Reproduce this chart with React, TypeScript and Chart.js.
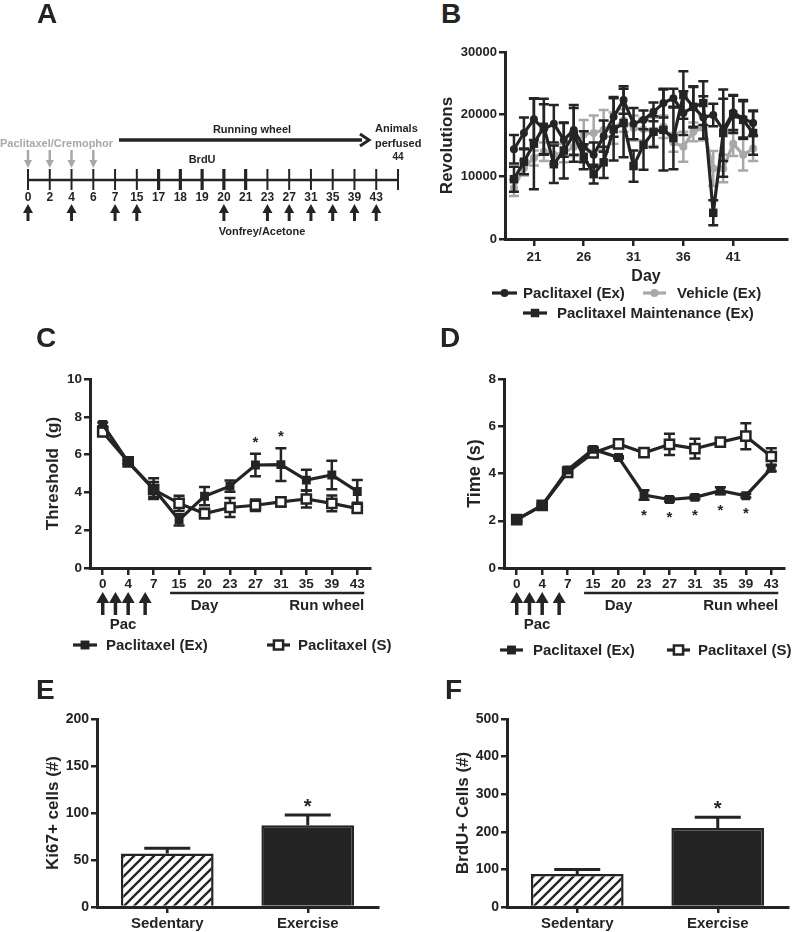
import React, { useEffect, useRef } from 'react';
import { Chart, registerables } from 'chart.js';

Chart.register(...registerables);

const FONT = "'Liberation Sans', Arial, Helvetica, sans-serif";
const INK = '#242424';
const GRAY = '#a8a8a8';

// ---------- Panel A (timeline schematic) ----------
const timelineDays = ['0', '2', '4', '6', '7', '15', '17', '18', '19', '20', '21', '23', '27', '31', '35', '39', '43', '44'];
const pacInjectionDays = ['0', '2', '4', '6'];
const brduDays = ['17', '18', '19', '20', '21'];
const behaviourTestDays = ['0', '4', '7', '15', '20', '23', '27', '31', '35', '39', '43'];
const perfusionDay = '44';

// ---------- Panel B (wheel revolutions) ----------
const wheelDays = [19, 20, 21, 22, 23, 24, 25, 26, 27, 28, 29, 30, 31, 32, 33, 34, 35, 36, 37, 38, 39, 40, 41, 42, 43];
const wheelTicks = [21, 26, 31, 36, 41];
const paclitaxelExRev = [14400, 17000, 19200, 17600, 18500, 15900, 17500, 14800, 13500, 16500, 19600, 22300, 18500, 19100, 20400, 21800, 22600, 20200, 21200, 19500, 19900, 17500, 20300, 19300, 18600];
const paclitaxelExRevErr = [2300, 2500, 3300, 4000, 3000, 2700, 4000, 2500, 2000, 2500, 3200, 2200, 2500, 1500, 1500, 2300, 1500, 3500, 3200, 3400, 1800, 5000, 2800, 3000, 2000];
const maintenanceExRev = [9600, 12400, 15300, 18000, 12000, 14200, 16700, 13200, 10400, 12300, 17600, 18600, 11700, 15100, 17200, 17500, 16200, 23100, 21200, 21800, 4200, 17000, 20000, 19100, 17000];
const maintenanceExRevErr = [2000, 2000, 7300, 4500, 3000, 4500, 4300, 2000, 1500, 2500, 5000, 5500, 2500, 4000, 2500, 6500, 5000, 3800, 3300, 3500, 2000, 7000, 3000, 3000, 3500];
const vehicleExRev = [8200, 11400, 13000, 14000, 13500, 13800, 14800, 16800, 17000, 17500, 17800, 19000, 17800, 17600, 17200, 18000, 15500, 14800, 17200, 17800, 11300, 11300, 15300, 13500, 14500];
const vehicleExRevErr = [1300, 1200, 1200, 1500, 1500, 1500, 1500, 2300, 2800, 3200, 2500, 1800, 2000, 1800, 2300, 1800, 1500, 2400, 1500, 2000, 2800, 2200, 2000, 2500, 2000];

// ---------- Panels C & D ----------
const testDays = ['0', '4', '7', '15', '20', '23', '27', '31', '35', '39', '43'];
const thresholdEx = [7.6, 5.6, 4.2, 2.55, 3.8, 4.33, 5.45, 5.47, 4.65, 4.92, 4.05];
const thresholdExErr = [0.1, 0.1, 0.55, 0.3, 0.48, 0.3, 0.6, 0.87, 0.55, 0.75, 0.6];
const thresholdSed = [7.2, 5.62, 4.15, 3.42, 2.88, 3.2, 3.32, 3.5, 3.65, 3.42, 3.15];
const thresholdSedErr = [0.15, 0.1, 0.4, 0.4, 0.25, 0.5, 0.3, 0.25, 0.45, 0.42, 0.2];
const thresholdSigDays = ['27', '31'];

const coldEx = [2.05, 2.65, 4.15, 5.02, 4.68, 3.09, 2.9, 2.99, 3.27, 3.06, 4.22];
const coldExErr = [0.08, 0.05, 0.1, 0.1, 0.05, 0.2, 0.08, 0.08, 0.15, 0.08, 0.12];
const coldSed = [2.05, 2.65, 4.05, 4.87, 5.25, 4.88, 5.23, 5.05, 5.33, 5.58, 4.72];
const coldSedErr = [0.08, 0.05, 0.1, 0.1, 0.1, 0.12, 0.45, 0.42, 0.15, 0.55, 0.35];
const coldSigDays = ['23', '27', '31', '35', '39'];

// ---------- Panels E & F ----------
const groups = ['Sedentary', 'Exercise'];
const ki67Cells = [57, 87];
const ki67Err = [5.5, 11];
const brduCells = [88, 210];
const brduErr = [12, 29];
const cellSigGroups = ['Exercise'];

// ---------- helpers ----------
const bold = (size: number) => ({ family: FONT, size, weight: 'bold' as const, lineHeight: 1.2 });

function setFont(ctx: CanvasRenderingContext2D, size: number) {
  ctx.font = `bold ${size}px ${FONT}`;
}

function drawArrow(ctx: CanvasRenderingContext2D, x: number, yTail: number, yHead: number, color: string, shaftW: number, headW: number, headH: number) {
  const dir = Math.sign(yHead - yTail);
  ctx.save();
  ctx.strokeStyle = color;
  ctx.fillStyle = color;
  ctx.lineWidth = shaftW;
  ctx.beginPath();
  ctx.moveTo(x, yTail);
  ctx.lineTo(x, yHead - dir * headH * 0.8);
  ctx.stroke();
  ctx.beginPath();
  ctx.moveTo(x, yHead);
  ctx.lineTo(x - headW / 2, yHead - dir * headH);
  ctx.lineTo(x + headW / 2, yHead - dir * headH);
  ctx.closePath();
  ctx.fill();
  ctx.restore();
}

function drawMarker(ctx: CanvasRenderingContext2D, style: string, x: number, y: number, r: number, fill: string, stroke: string, bw: number) {
  ctx.save();
  ctx.fillStyle = fill;
  ctx.strokeStyle = stroke;
  ctx.lineWidth = bw;
  ctx.beginPath();
  if (style === 'circle') ctx.arc(x, y, r, 0, Math.PI * 2);
  else {
    const s = r * Math.SQRT1_2;
    ctx.rect(x - s, y - s, 2 * s, 2 * s);
  }
  ctx.fill();
  if (bw > 0) ctx.stroke();
  ctx.restore();
}

function hatchPattern(): CanvasPattern | string {
  const c = document.createElement('canvas');
  c.width = 10;
  c.height = 10;
  const g = c.getContext('2d');
  if (!g) return '#fff';
  g.fillStyle = '#fff';
  g.fillRect(0, 0, 10, 10);
  g.strokeStyle = INK;
  g.lineWidth = 2.3;
  g.beginPath();
  g.moveTo(-2, 12); g.lineTo(12, -2);
  g.moveTo(-2, 2); g.lineTo(2, -2);
  g.moveTo(8, 12); g.lineTo(12, 8);
  g.stroke();
  return g.createPattern(c, 'repeat') || '#fff';
}

// error bars drawn just before each dataset
const errorBarPlugin = {
  id: 'errorBars',
  beforeDatasetDraw(chart: any, args: any) {
    const ds = chart.data.datasets[args.index];
    const errs: number[] | undefined = ds.errors;
    if (!errs) return;
    const ctx: CanvasRenderingContext2D = chart.ctx;
    const yScale = chart.scales.y;
    const meta = args.meta;
    ctx.save();
    ctx.strokeStyle = ds.errorColor || ds.borderColor;
    ctx.lineWidth = ds.errorWidth || 2;
    meta.data.forEach((el: any, j: number) => {
      const raw = ds.data[j];
      const v = raw !== null && typeof raw === 'object' ? raw.y : raw;
      const e = errs[j];
      if (v == null || e == null) return;
      const x = el.x;
      const yTop = yScale.getPixelForValue(v + e);
      const yBot = ds.errorUpOnly ? yScale.getPixelForValue(v) : yScale.getPixelForValue(v - e);
      const hw = ds.capHalfWidth || 5;
      ctx.beginPath();
      ctx.moveTo(x, yTop); ctx.lineTo(x, yBot);
      ctx.moveTo(x - hw, yTop); ctx.lineTo(x + hw, yTop);
      if (!ds.errorUpOnly) { ctx.moveTo(x - hw, yBot); ctx.lineTo(x + hw, yBot); }
      ctx.stroke();
    });
    ctx.restore();
  },
};

// significance stars attached to a dataset
const starPlugin = {
  id: 'sigStars',
  afterDatasetsDraw(chart: any) {
    const ctx: CanvasRenderingContext2D = chart.ctx;
    const yScale = chart.scales.y;
    const labels: string[] = chart.data.labels;
    chart.data.datasets.forEach((ds: any, i: number) => {
      if (!ds.stars) return;
      const meta = chart.getDatasetMeta(i);
      const size = ds.starSize || 15;
      ctx.save();
      setFont(ctx, size);
      ctx.fillStyle = INK;
      ctx.textAlign = 'center';
      ctx.textBaseline = 'alphabetic';
      ds.stars.forEach((lab: string) => {
        const j = labels.indexOf(lab);
        if (j < 0) return;
        const v = ds.data[j];
        const e = ds.errors ? ds.errors[j] : 0;
        const x = meta.data[j].x;
        let yc: number;
        if (ds.starBelow) yc = yScale.getPixelForValue(v - e) + 12;
        else yc = yScale.getPixelForValue(v + e) - (ds.starGap || 13);
        ctx.fillText('*', x, yc + 0.55 * size);
      });
      ctx.restore();
    });
  },
};

type LegendItem = { ds: number; x0: number; x1: number; textX: number; y: number };
const customLegendPlugin = {
  id: 'customLegend',
  afterDraw(chart: any, _a: any, opts: any) {
    const items: LegendItem[] = (opts && opts.items) || [];
    const ctx: CanvasRenderingContext2D = chart.ctx;
    items.forEach((it) => {
      const ds = chart.data.datasets[it.ds];
      ctx.save();
      ctx.strokeStyle = ds.borderColor;
      ctx.lineWidth = ds.borderWidth;
      ctx.beginPath();
      ctx.moveTo(it.x0, it.y);
      ctx.lineTo(it.x1, it.y);
      ctx.stroke();
      drawMarker(ctx, ds.pointStyle, (it.x0 + it.x1) / 2, it.y, ds.pointRadius, ds.pointBackgroundColor, ds.pointBorderColor, ds.pointBorderWidth);
      setFont(ctx, opts.fontSize || 15);
      ctx.fillStyle = INK;
      ctx.textAlign = 'left';
      ctx.textBaseline = 'middle';
      ctx.fillText(ds.label, it.textX, it.y + 1);
      ctx.restore();
    });
  },
};

// treatment annotations under the C / D x axes
const pacDayToIndex = (day: number) => {
  const known = testDays.map(Number);
  for (let i = 0; i < known.length - 1; i++) {
    if (day >= known[i] && day <= known[i + 1]) return i + (day - known[i]) / (known[i + 1] - known[i]);
  }
  return 0;
};
const treatmentPlugin = {
  id: 'treatment',
  afterDraw(chart: any) {
    const ctx: CanvasRenderingContext2D = chart.ctx;
    const x = chart.scales.x;
    pacInjectionDays.forEach((d) => {
      const px = x.getPixelForValue(pacDayToIndex(Number(d)));
      drawArrow(ctx, px, 285, 262, INK, 3.5, 13, 11);
    });
    setFont(ctx, 15);
    ctx.fillStyle = INK;
    ctx.textBaseline = 'middle';
    ctx.textAlign = 'center';
    ctx.fillText('Pac', x.getPixelForValue(0.8), 295);
    const startPx = x.getPixelForValue(testDays.indexOf('15')) - 9;
    const endPx = x.getPixelForValue(testDays.length - 1) + 7;
    ctx.save();
    ctx.strokeStyle = INK;
    ctx.lineWidth = 2.5;
    ctx.beginPath();
    ctx.moveTo(startPx, 263);
    ctx.lineTo(endPx, 263);
    ctx.stroke();
    ctx.restore();
    ctx.fillText('Day', x.getPixelForValue(testDays.indexOf('20')), 276);
    ctx.textAlign = 'right';
    ctx.fillText('Run wheel', endPx, 276);
  },
};

const timelinePlugin = {
  id: 'timeline',
  afterDraw(chart: any) {
    const ctx: CanvasRenderingContext2D = chart.ctx;
    const x = chart.scales.x;
    const px = (d: string) => x.getPixelForValue(timelineDays.indexOf(d));
    const axisY = 180;
    ctx.save();
    ctx.strokeStyle = INK;
    ctx.lineWidth = 2.5;
    ctx.beginPath();
    ctx.moveTo(px(timelineDays[0]), axisY);
    ctx.lineTo(px(timelineDays[timelineDays.length - 1]), axisY);
    ctx.stroke();
    timelineDays.forEach((d) => {
      ctx.lineWidth = brduDays.includes(d) ? 3.2 : 2;
      ctx.beginPath();
      ctx.moveTo(px(d), 169);
      ctx.lineTo(px(d), 190);
      ctx.stroke();
    });
    ctx.restore();
    setFont(ctx, 12);
    ctx.fillStyle = INK;
    ctx.textAlign = 'center';
    ctx.textBaseline = 'middle';
    timelineDays.forEach((d) => {
      if (d === perfusionDay) return;
      ctx.fillText(d, px(d), 198);
    });
    setFont(ctx, 10);
    ctx.fillText(perfusionDay, px(perfusionDay), 157);
    pacInjectionDays.forEach((d) => drawArrow(ctx, px(d), 150, 168, GRAY, 2.5, 8, 8));
    behaviourTestDays.forEach((d) => drawArrow(ctx, px(d), 221, 204, INK, 3, 10, 9));
    // labels
    setFont(ctx, 11);
    ctx.fillStyle = GRAY;
    ctx.textAlign = 'left';
    ctx.fillText('Paclitaxel/Cremophor', 0, 144);
    ctx.fillStyle = INK;
    ctx.textAlign = 'center';
    ctx.fillText('BrdU', px(brduDays[2]), 160);
    ctx.fillText('Vonfrey/Acetone', 262, 232);
    ctx.fillText('Running wheel', 252, 130);
    ctx.textAlign = 'left';
    ctx.fillText('Animals', 375, 129);
    ctx.fillText('perfused', 375, 144);
    // running wheel arrow
    ctx.save();
    ctx.strokeStyle = INK;
    ctx.fillStyle = INK;
    ctx.lineWidth = 3.5;
    ctx.beginPath();
    ctx.moveTo(119, 140);
    ctx.lineTo(362, 140);
    ctx.stroke();
    ctx.lineWidth = 3;
    ctx.lineJoin = 'miter';
    ctx.beginPath();
    ctx.moveTo(360, 134);
    ctx.lineTo(369, 140);
    ctx.lineTo(360, 146);
    ctx.stroke();
    ctx.restore();
  },
};

// common axis look
const axisGrid = (tickLength: number) => ({
  display: true,
  drawOnChartArea: false,
  drawTicks: true,
  tickLength,
  color: INK,
  lineWidth: 2.5,
});
const axisBorder = { display: true, color: INK, width: 3 };

function yAxis(min: number, max: number, step: number, title: string, titleSize: number, width: number, tickSize: number) {
  return {
    type: 'linear',
    min,
    max,
    ticks: { stepSize: step, color: INK, font: bold(tickSize), padding: 2, callback: (v: any) => String(v) },
    grid: axisGrid(6),
    border: axisBorder,
    title: { display: true, text: title, color: INK, font: bold(titleSize), padding: { top: 0, bottom: 0 } },
    afterFit: (s: any) => { s.width = width; },
  };
}

function seriesStyle(color: string, style: 'circle' | 'rect', radius: number, fill: string, borderW: number) {
  return {
    borderColor: color,
    backgroundColor: color,
    borderWidth: 3.2,
    pointStyle: style,
    pointRadius: radius,
    pointHoverRadius: radius,
    pointBackgroundColor: fill,
    pointBorderColor: color,
    pointBorderWidth: borderW,
    errorColor: color,
    errorWidth: 2.5,
    tension: 0,
  };
}

// ---------- configs ----------
function configA() {
  return {
    type: 'line',
    data: { labels: timelineDays, datasets: [{ label: 'timeline', data: timelineDays.map(() => null) }] },
    plugins: [timelinePlugin],
    options: {
      animation: false,
      responsive: false,
      layout: { padding: { left: 28, right: 32, top: 0, bottom: 0 } },
      plugins: { legend: { display: false }, tooltip: { enabled: false } },
      scales: { x: { display: false }, y: { display: false, min: 0, max: 1 } },
    },
  };
}

function configB() {
  const mk = (xs: number[], ys: number[]) => xs.map((d, i) => ({ x: d, y: ys[i] }));
  return {
    type: 'line',
    data: {
      datasets: [
        { label: 'Paclitaxel (Ex)', data: mk(wheelDays, paclitaxelExRev), errors: paclitaxelExRevErr, capHalfWidth: 5, ...seriesStyle(INK, 'circle', 4, INK, 0) },
        { label: 'Paclitaxel Maintenance (Ex)', data: mk(wheelDays, maintenanceExRev), errors: maintenanceExRevErr, capHalfWidth: 5, ...seriesStyle(INK, 'rect', 6, INK, 0) },
        { label: 'Vehicle (Ex)', data: mk(wheelDays, vehicleExRev), errors: vehicleExRevErr, capHalfWidth: 5, ...seriesStyle(GRAY, 'circle', 4, GRAY, 0) },
      ],
    },
    plugins: [errorBarPlugin, customLegendPlugin],
    options: {
      animation: false,
      responsive: false,
      layout: { padding: { left: 26.8, right: 6, top: 22, bottom: 43.4 } },
      plugins: {
        legend: { display: false },
        tooltip: { enabled: false },
        customLegend: {
          fontSize: 15,
          items: [
            { ds: 0, x0: 82, x1: 107, textX: 113, y: 263 },
            { ds: 2, x0: 233, x1: 256, textX: 267, y: 263 },
            { ds: 1, x0: 113, x1: 137, textX: 147, y: 283 },
          ],
        },
      },
      scales: {
        x: {
          type: 'linear',
          min: 18.1,
          max: 46.4,
          ticks: { color: INK, font: bold(13.5), padding: 3, autoSkip: false, maxRotation: 0 },
          afterBuildTicks: (s: any) => { s.ticks = wheelTicks.map((v) => ({ value: v })); },
          grid: axisGrid(7),
          border: axisBorder,
          title: { display: true, text: 'Day', color: INK, font: bold(16), padding: { top: 0, bottom: 0 } },
          afterFit: (s: any) => { s.height = 47.6; },
        },
        y: yAxis(0, 30000, 10000, 'Revolutions', 17, 68.2, 13),
      },
    },
  };
}

function configCD(kind: 'C' | 'D') {
  const isC = kind === 'C';
  const ex = isC ? thresholdEx : coldEx;
  const exErr = isC ? thresholdExErr : coldExErr;
  const sed = isC ? thresholdSed : coldSed;
  const sedErr = isC ? thresholdSedErr : coldSedErr;
  const padLeft = isC ? 42.8 : 64.2;
  const chartLeft = isC ? 90 : 104;
  return {
    type: 'line',
    data: {
      labels: testDays,
      datasets: [
        { label: 'Paclitaxel (Ex)', data: ex, errors: exErr, capHalfWidth: 5.5, stars: isC ? thresholdSigDays : coldSigDays, starBelow: !isC, starSize: 15, starGap: 15, ...seriesStyle(INK, 'rect', 6.3, INK, 0) },
        { label: 'Paclitaxel (S)', data: sed, errors: sedErr, capHalfWidth: 5.5, ...seriesStyle(INK, 'rect', 6.5, '#ffffff', 2.5) },
      ],
    },
    plugins: [errorBarPlugin, starPlugin, customLegendPlugin, treatmentPlugin],
    options: {
      animation: false,
      responsive: false,
      layout: { padding: { left: padLeft, right: isC ? 30 : 7, top: 49, bottom: 72 } },
      plugins: {
        legend: { display: false },
        tooltip: { enabled: false },
        customLegend: {
          fontSize: 15,
          items: isC
            ? [
                { ds: 0, x0: 73, x1: 97, textX: 106, y: 315 },
                { ds: 1, x0: 267, x1: 290, textX: 298, y: 315 },
              ]
            : [
                { ds: 0, x0: 100, x1: 123, textX: 133, y: 320 },
                { ds: 1, x0: 267, x1: 290, textX: 298, y: 320 },
              ],
        },
      },
      scales: {
        x: {
          type: 'category',
          offset: true,
          ticks: { color: INK, font: bold(13.5), padding: 1, autoSkip: false, maxRotation: 0 },
          grid: { ...axisGrid(7), offset: false },
          border: axisBorder,
          afterFit: (s: any) => { s.height = 30; },
        },
        y: isC
          ? yAxis(0, 10, 2, 'Threshold  (g)', 17, chartLeft - padLeft, 13.5)
          : yAxis(0, 8, 2, 'Time (s)', 18, chartLeft - padLeft, 13.5),
      },
    },
  };
}

function configEF(kind: 'E' | 'F') {
  const isE = kind === 'E';
  const padLeft = isE ? 42.8 : 52.8;
  const chartLeft = isE ? 97 : 107;
  return {
    type: 'bar',
    data: {
      labels: groups,
      datasets: [
        {
          label: isE ? 'Ki67+ cells' : 'BrdU+ Cells',
          data: isE ? ki67Cells : brduCells,
          errors: isE ? ki67Err : brduErr,
          errorUpOnly: true,
          errorColor: INK,
          errorWidth: 3,
          capHalfWidth: 23,
          stars: cellSigGroups,
          starSize: 20,
          backgroundColor: [hatchPattern(), INK],
          borderColor: INK,
          borderWidth: 2.5,
          barPercentage: 0.66,
          categoryPercentage: 1,
        },
      ],
    },
    plugins: [errorBarPlugin, starPlugin],
    options: {
      animation: false,
      responsive: false,
      layout: { padding: { left: padLeft, right: isE ? 22 : 5, top: 49, bottom: 0 } },
      plugins: { legend: { display: false }, tooltip: { enabled: false } },
      scales: {
        x: {
          type: 'category',
          offset: true,
          ticks: { color: INK, font: bold(15), padding: 2, autoSkip: false, maxRotation: 0 },
          grid: { ...axisGrid(6), offset: false },
          border: axisBorder,
          afterFit: (s: any) => { s.height = 25; },
        },
        y: isE
          ? yAxis(0, 200, 50, 'Ki67+ cells (#)', 17, chartLeft - padLeft, 14)
          : yAxis(0, 500, 100, 'BrdU+ Cells (#)', 17, chartLeft - padLeft, 14),
      },
    },
  };
}

function ChartPanel(props: { left: number; top: number; width: number; height: number; make: () => any }) {
  const ref = useRef<HTMLCanvasElement>(null);
  useEffect(() => {
    if (!ref.current) return;
    const chart = new Chart(ref.current, props.make());
    return () => chart.destroy();
  }, []);
  return (
    <canvas
      ref={ref}
      width={props.width}
      height={props.height}
      style={{ position: 'absolute', left: props.left, top: props.top, width: props.width, height: props.height }}
    />
  );
}

function PanelLetter(props: { text: string; left: number; top: number }) {
  return (
    <div
      style={{
        position: 'absolute',
        left: props.left,
        top: props.top,
        fontFamily: FONT,
        fontWeight: 'bold',
        fontSize: 28,
        lineHeight: '28px',
        color: INK,
      }}
    >
      {props.text}
    </div>
  );
}

export default function App() {
  return (
    <div style={{ position: 'absolute', left: 0, top: 0, width: 793, height: 932, background: '#fff', overflow: 'hidden' }}>
      <ChartPanel left={0} top={0} width={430} height={250} make={configA} />
      <ChartPanel left={410} top={30} width={383} height={300} make={configB} />
      <ChartPanel left={0} top={330} width={400} height={340} make={() => configCD('C')} />
      <ChartPanel left={400} top={330} width={393} height={340} make={() => configCD('D')} />
      <ChartPanel left={0} top={670} width={400} height={262} make={() => configEF('E')} />
      <ChartPanel left={400} top={670} width={393} height={262} make={() => configEF('F')} />
      <PanelLetter text="A" left={37} top={0} />
      <PanelLetter text="B" left={441} top={0} />
      <PanelLetter text="C" left={36} top={324} />
      <PanelLetter text="D" left={440} top={324} />
      <PanelLetter text="E" left={36} top={676} />
      <PanelLetter text="F" left={445} top={676} />
    </div>
  );
}
